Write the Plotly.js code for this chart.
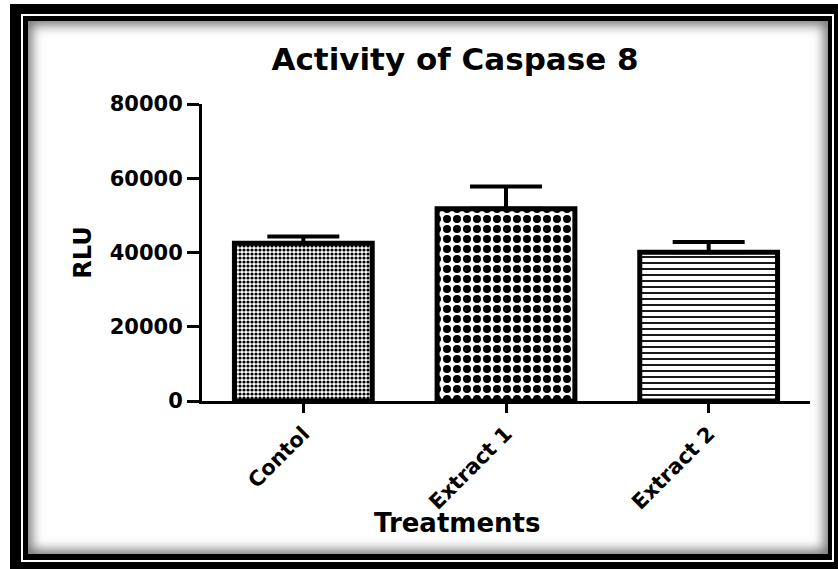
<!DOCTYPE html>
<html>
<head>
<meta charset="utf-8">
<script src="https://cdn.plot.ly/plotly-3.0.1.min.js"></script>
<style>
  html, body { margin:0; padding:0; background:#fff; width:838px; height:569px; overflow:hidden; }
  .fr { position:absolute; }
  #f1 { left:10px; top:4px; width:828px; height:565px; background:#000; }
  #f2 { left:21px; top:14px; width:813px; height:548px; background:#fff; }
  #f3 { left:23px; top:16px; width:809px; height:544px; background:#000; }
  #f4 { left:28px; top:21px; width:800px; height:533px; background:#fff;
        box-shadow: inset 0 0 12px 4px rgba(0,0,0,0.55); }
  #chart { position:absolute; left:0; top:0; width:838px; height:569px; }
</style>
</head>
<body>
<div class="fr" id="f1"></div>
<div class="fr" id="f2"></div>
<div class="fr" id="f3"></div>
<div class="fr" id="f4"></div>
<div id="chart"></div>
<script>
// ---- data ----
const categories = ["Contol", "Extract 1", "Extract 2"];
const rluMean = [42500, 51800, 40100];
const rluErrUp = [1800, 6000, 2700];
const rluErrDown = [0, 0, 0];
const yTickVals = [0, 20000, 40000, 60000, 80000];
const yTickText = ["0", "20000", "40000", "60000", "80000"];

const FONT = "DejaVu Sans, Arial, sans-serif";

const trace = {
  type: "bar",
  x: categories,
  y: rluMean,
  width: 0.68,
  marker: {
    color: "#ffffff",
    line: { color: "#000000", width: 5 },
    pattern: {
      shape: [".", ".", "-"],
      size: [4, 10, 6],
      solidity: [0.5, 0.5, 0.3],
      fgcolor: "#000000",
      bgcolor: "#ffffff",
      fillmode: "replace"
    }
  },
  error_y: {
    type: "data",
    symmetric: false,
    array: rluErrUp,
    arrayminus: rluErrDown,
    color: "#000000",
    thickness: 4,
    width: 36
  },
  hoverinfo: "x+y"
};

const layout = {
  width: 838,
  height: 569,
  margin: { l: 202, r: 28, t: 104, b: 168 },
  paper_bgcolor: "rgba(0,0,0,0)",
  plot_bgcolor: "rgba(0,0,0,0)",
  showlegend: false,
  title: {
    text: "Activity of Caspase 8",
    font: { family: FONT, size: 31, color: "#000", weight: "bold" },
    xref: "container", x: 0.543, xanchor: "center",
    yref: "container", y: 0.896, yanchor: "middle"
  },
  xaxis: {
    type: "category",
    range: [-0.5, 2.5],
    showline: true, linecolor: "#000", linewidth: 3,
    ticks: "outside", ticklen: 9, tickwidth: 3, tickcolor: "#000",
    tickangle: -45,
    tickfont: { family: FONT, size: 21, color: "#000", weight: "bold" },
    showgrid: false, zeroline: false, fixedrange: true
  },
  yaxis: {
    range: [0, 80000],
    tickvals: yTickVals,
    ticktext: yTickText,
    showline: true, linecolor: "#000", linewidth: 3,
    ticks: "outside", ticklen: 12, tickwidth: 3, tickcolor: "#000",
    tickfont: { family: FONT, size: 21, color: "#000", weight: "bold" },
    showgrid: false, zeroline: false, fixedrange: true,
    title: {
      text: "RLU",
      font: { family: FONT, size: 24, color: "#000", weight: "bold" },
      standoff: 12
    }
  },
  annotations: [{
    text: "Treatments",
    xref: "paper", yref: "paper",
    x: 0.419, y: -0.41,
    xanchor: "center", yanchor: "middle",
    showarrow: false,
    font: { family: FONT, size: 26, color: "#000", weight: "bold" }
  }]
};

Plotly.newPlot("chart", [trace], layout, { staticPlot: true, displayModeBar: false });
</script>
</body>
</html>
